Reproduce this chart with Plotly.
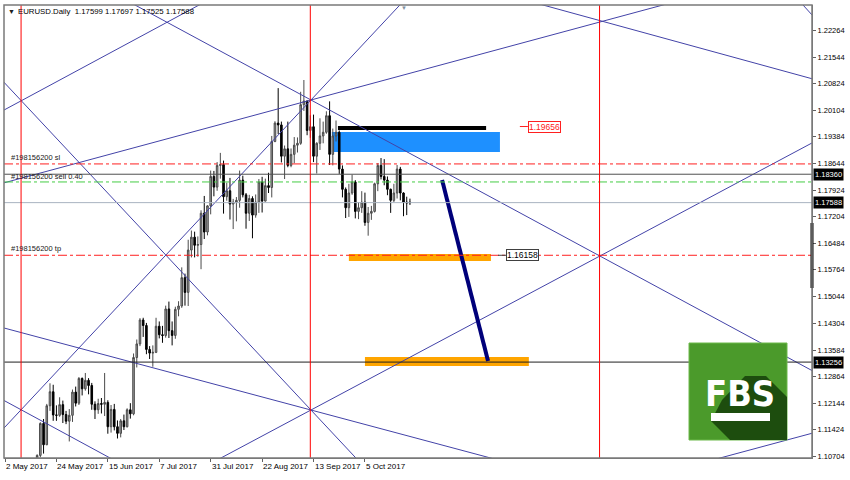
import plotly.graph_objects as go

# ---------------- data ----------------
bar_index = list(range(10, 127))
opens = [1.0980, 1.1072, 1.1159, 1.1101, 1.1207, 1.1245, 1.1182, 1.1181, 1.1210, 1.1183,
         1.1165, 1.1181, 1.1244, 1.1214, 1.1281, 1.1253, 1.1276, 1.1262, 1.1211, 1.1196,
         1.1213, 1.1211, 1.1216, 1.1150, 1.1197, 1.1150, 1.1132, 1.1166, 1.1150, 1.1196,
         1.1185, 1.1338, 1.1375, 1.1440, 1.1425, 1.1360, 1.1350, 1.1352, 1.1423, 1.1400,
         1.1398, 1.1470, 1.1411, 1.1398, 1.1469, 1.1478, 1.1555, 1.1515, 1.1630, 1.1665,
         1.1643, 1.1645, 1.1730, 1.1679, 1.1750, 1.1830, 1.1801, 1.1860, 1.1862, 1.1775,
         1.1791, 1.1755, 1.1760, 1.1765, 1.1820, 1.1780, 1.1730, 1.1770, 1.1725, 1.1760,
         1.1815, 1.1763, 1.1805, 1.1800, 1.1925, 1.1975, 1.1970, 1.1885, 1.1905, 1.1860,
         1.1890, 1.1915, 1.1920, 1.2025, 1.2035, 1.1955, 1.1965, 1.1885, 1.1920, 1.1940,
         1.1950, 1.1995, 1.1890, 1.1940, 1.1950, 1.1850, 1.1795, 1.1745, 1.1785, 1.1815,
         1.1735, 1.1745, 1.1760, 1.1705, 1.1730, 1.1735, 1.1810, 1.1860, 1.1830, 1.1820,
         1.1795, 1.1765, 1.1785, 1.1850, 1.1785, 1.1760, 1.17599]
highs = [1.1075, 1.1162, 1.1171, 1.1212, 1.1268, 1.1264, 1.1208, 1.1230, 1.1221, 1.1193,
         1.1198, 1.1251, 1.1259, 1.1285, 1.1284, 1.1296, 1.1282, 1.1269, 1.1219, 1.1226,
         1.1228, 1.1296, 1.1222, 1.1209, 1.1212, 1.1167, 1.1171, 1.1183, 1.1200, 1.1214,
         1.1349, 1.1387, 1.1445, 1.1446, 1.1432, 1.1369, 1.1371, 1.1446, 1.1436, 1.1424,
         1.1479, 1.1490, 1.1436, 1.1476, 1.1491, 1.1583, 1.1566, 1.1658, 1.1683, 1.1680,
         1.1667, 1.1738, 1.1777, 1.1752, 1.1846, 1.1845, 1.1869, 1.1894, 1.1873, 1.1813,
         1.1826, 1.1769, 1.1774, 1.1846, 1.1832, 1.1785, 1.1780, 1.1776, 1.1781, 1.1823,
         1.1829, 1.1824, 1.1840, 1.1940, 1.1980, 1.2070, 1.1979, 1.1914, 1.1979, 1.1906,
         1.1937, 1.1936, 1.2060, 1.2092, 1.2036, 1.1996, 1.1998, 1.1923, 1.1988, 1.1979,
         1.2007, 1.2034, 1.1960, 1.1982, 1.1955, 1.1860, 1.1800, 1.1810, 1.1835, 1.1820,
         1.1760, 1.1790, 1.1786, 1.1747, 1.1750, 1.1813, 1.1866, 1.1880, 1.1877, 1.1830,
         1.1797, 1.1810, 1.1861, 1.1856, 1.1787, 1.1775, 1.17697]
lows = [1.0971, 1.1067, 1.1077, 1.1100, 1.1193, 1.1166, 1.1166, 1.1177, 1.1160, 1.1157,
        1.1110, 1.1163, 1.1205, 1.1209, 1.1235, 1.1248, 1.1238, 1.1196, 1.1171, 1.1185,
        1.1186, 1.1179, 1.1131, 1.1134, 1.1140, 1.1118, 1.1121, 1.1141, 1.1148, 1.1172,
        1.1181, 1.1311, 1.1369, 1.1394, 1.1347, 1.1334, 1.1313, 1.1350, 1.1390, 1.1378,
        1.1392, 1.1391, 1.1371, 1.1389, 1.1450, 1.1473, 1.1479, 1.1478, 1.1610, 1.1610,
        1.1612, 1.1578, 1.1660, 1.1670, 1.1727, 1.1776, 1.1791, 1.1824, 1.1729, 1.1764,
        1.1713, 1.1687, 1.1708, 1.1745, 1.1773, 1.1688, 1.1709, 1.1662, 1.1718, 1.1731,
        1.1732, 1.1762, 1.1785, 1.1773, 1.1923, 1.1945, 1.1868, 1.1823, 1.1855, 1.1855,
        1.1866, 1.1895, 1.1916, 1.2008, 1.1942, 1.1935, 1.1869, 1.1838, 1.1902, 1.1920,
        1.1946, 1.1861, 1.1860, 1.1925, 1.1837, 1.1773, 1.1717, 1.1720, 1.1780, 1.1716,
        1.1714, 1.1731, 1.1696, 1.1669, 1.1712, 1.1732, 1.1790, 1.1822, 1.1806, 1.1779,
        1.1731, 1.1760, 1.1770, 1.1765, 1.1722, 1.1725, 1.17525]
closes = [1.1072, 1.1159, 1.1101, 1.1207, 1.1245, 1.1182, 1.1181, 1.1210, 1.1183, 1.1165,
          1.1181, 1.1244, 1.1214, 1.1281, 1.1253, 1.1276, 1.1262, 1.1211, 1.1196, 1.1213,
          1.1211, 1.1216, 1.1150, 1.1197, 1.1150, 1.1132, 1.1166, 1.1150, 1.1196, 1.1185,
          1.1338, 1.1375, 1.1440, 1.1425, 1.1360, 1.1350, 1.1352, 1.1423, 1.1400, 1.1398,
          1.1470, 1.1411, 1.1398, 1.1469, 1.1478, 1.1555, 1.1515, 1.1630, 1.1665, 1.1643,
          1.1645, 1.1730, 1.1679, 1.1750, 1.1830, 1.1801, 1.1860, 1.1862, 1.1775, 1.1791,
          1.1755, 1.1760, 1.1765, 1.1820, 1.1780, 1.1730, 1.1770, 1.1725, 1.1760, 1.1815,
          1.1763, 1.1805, 1.1800, 1.1925, 1.1975, 1.1970, 1.1885, 1.1905, 1.1860, 1.1890,
          1.1915, 1.1920, 1.2025, 1.2035, 1.1955, 1.1965, 1.1885, 1.1920, 1.1940, 1.1950,
          1.1995, 1.1890, 1.1940, 1.1950, 1.1850, 1.1795, 1.1745, 1.1785, 1.1815, 1.1735,
          1.1745, 1.1760, 1.1705, 1.1730, 1.1735, 1.1810, 1.1860, 1.1830, 1.1820, 1.1795,
          1.1765, 1.1785, 1.1850, 1.1785, 1.1760, 1.1758, 1.17588]

date_tick_index = [0, 16, 32, 48, 64, 80, 96, 112]
date_tick_labels = ["2 May 2017", "24 May 2017", "15 Jun 2017", "7 Jul 2017",
                    "31 Jul 2017", "22 Aug 2017", "13 Sep 2017", "5 Oct 2017"]
price_ticks = [1.22264, 1.21544, 1.20824, 1.20104, 1.19384, 1.18644, 1.17924, 1.17204,
               1.16484, 1.15764, 1.15044, 1.14304, 1.13584, 1.12864, 1.12144, 1.11424, 1.10704]

symbol_title = "EURUSD.Daily"
order_id = "#198156200"
sl_price = 1.18640
level_price = 1.18360
open_price = 1.18150
bid_price = 1.17588
tp_price = 1.16158
low_level_price = 1.13256
red_label_price = 1.19656

vline_index = [5, 95, 185]

# trend lines: anchor (bar index, price) pairs
tl_i1 = [95.2, -0.3, 95.2, 28.6, -0.3, 17.1, 95.2, 167.4, 248.3, 0.0, 222.5]
tl_p1 = [1.20377, 1.11465, 1.20377, 1.21463, 1.14182, 1.19235, 1.11954, 1.22958, 1.22958, 1.12198, 1.10650]
tl_i2 = [185.1, 95.2, 185.1, 60.4, 95.2, 95.2, 185.1, 251.4, 251.4, 32.7, 251.4]
tl_p2 = [1.22496, 1.20377, 1.16138, 1.22958, 1.11954, 1.11954, 1.16138, 1.20947, 1.22659, 1.10650, 1.11329]

blue_zone_i = [101.7, 154.0]
blue_zone_p = [1.18964, 1.19507]
black_bar_i = [103.6, 149.7]
black_bar_p = 1.19616
orange1_i = [107.0, 151.2]
orange1_p = [1.16002, 1.16193]
orange2_i = [112.0, 163.0]
orange2_p = [1.13149, 1.13394]
navy_i = [136.0, 150.3]
navy_p = [1.18203, 1.13285]
red_label_i = [160.2, 162.7]
tp_label_i = [153.4, 155.9]

# ---------------- figure ----------------
X_RANGE = [-0.31, 251.1]
Y_RANGE = [1.10650, 1.22958]
L, R, T, B = 4, 38, 5, 22
PW, PH = 850 - L - R, 480 - T - B


def px(x):
    return (x - L) / PW


def py(y):
    return 1 - (y - T) / PH


FONT = "Liberation Sans, Arial, sans-serif"
fig = go.Figure()

fig.add_trace(go.Candlestick(
    x=bar_index, open=opens, high=highs, low=lows, close=closes,
    increasing=dict(line=dict(color="#4a4a4a", width=1), fillcolor="#a0a0a0"),
    decreasing=dict(line=dict(color="#000000", width=1), fillcolor="#000000"),
    whiskerwidth=0, showlegend=False, hoverinfo="skip"))

# trend lines (extended across the chart)
lx, ly = [], []
for i1, p1, i2, p2 in zip(tl_i1, tl_p1, tl_i2, tl_p2):
    s = (p2 - p1) / (i2 - i1)
    for xv in (-40, 300):
        lx.append(xv)
        ly.append(p1 + s * (xv - i1))
    lx.append(None)
    ly.append(None)
fig.add_trace(go.Scatter(x=lx, y=ly, mode="lines", line=dict(color="#4343a8", width=1),
                         showlegend=False, hoverinfo="skip"))

# navy thick line
fig.add_trace(go.Scatter(x=navy_i, y=navy_p, mode="lines",
                         line=dict(color="#00007a", width=4), showlegend=False, hoverinfo="skip"))

shapes = []
# rectangles (behind candles)
shapes.append(dict(type="rect", xref="x", yref="y", x0=blue_zone_i[0], x1=blue_zone_i[1],
                   y0=blue_zone_p[0], y1=blue_zone_p[1], fillcolor="#1e90ff",
                   line=dict(width=0), layer="below"))
shapes.append(dict(type="rect", xref="x", yref="y", x0=orange1_i[0], x1=orange1_i[1],
                   y0=orange1_p[0], y1=orange1_p[1], fillcolor="#ffa500",
                   line=dict(width=0), layer="below"))
shapes.append(dict(type="rect", xref="x", yref="y", x0=orange2_i[0], x1=orange2_i[1],
                   y0=orange2_p[0], y1=orange2_p[1], fillcolor="#ffa500",
                   line=dict(width=0), layer="below"))
shapes.append(dict(type="line", xref="x", yref="y", x0=black_bar_i[0], x1=black_bar_i[1],
                   y0=black_bar_p, y1=black_bar_p, line=dict(color="#000000", width=4),
                   layer="below"))

# horizontal lines
shapes.append(dict(type="line", xref="paper", yref="y", x0=0, x1=1, y0=bid_price, y1=bid_price,
                   line=dict(color="#a9b3c0", width=1)))
shapes.append(dict(type="line", xref="paper", yref="y", x0=0, x1=1, y0=level_price, y1=level_price,
                   line=dict(color="#505050", width=1)))
shapes.append(dict(type="line", xref="paper", yref="y", x0=0, x1=1, y0=low_level_price,
                   y1=low_level_price, line=dict(color="#202020", width=1)))
shapes.append(dict(type="line", xref="paper", yref="y", x0=0, x1=1, y0=sl_price, y1=sl_price,
                   line=dict(color="#ff2020", width=1, dash="dashdot")))
shapes.append(dict(type="line", xref="paper", yref="y", x0=0, x1=1, y0=tp_price, y1=tp_price,
                   line=dict(color="#ff2020", width=1, dash="dashdot")))
shapes.append(dict(type="line", xref="paper", yref="y", x0=0, x1=1, y0=open_price, y1=open_price,
                   line=dict(color="#44cc44", width=1, dash="dashdot")))

# vertical red lines
for vi in vline_index:
    shapes.append(dict(type="line", xref="x", yref="paper", x0=vi, x1=vi, y0=0, y1=1,
                       line=dict(color="#ff0000", width=1), layer="above"))

# price label connector ticks
shapes.append(dict(type="line", xref="x", yref="y", x0=red_label_i[0], x1=red_label_i[1],
                   y0=red_label_price, y1=red_label_price, line=dict(color="#ff2020", width=1)))
shapes.append(dict(type="line", xref="x", yref="y", x0=tp_label_i[0], x1=tp_label_i[1],
                   y0=tp_price, y1=tp_price, line=dict(color="#404040", width=1)))

# right axis dark segment
shapes.append(dict(type="line", xref="paper", yref="paper", x0=1, x1=1, y0=py(288), y1=py(223),
                   line=dict(color="#000000", width=3)))

# frame
shapes.append(dict(type="rect", xref="paper", yref="paper", x0=0, x1=1, y0=0, y1=1,
                   line=dict(color="#7a7a7a", width=1.5)))

# FBS logo
shapes.append(dict(type="rect", xref="paper", yref="paper", x0=px(689), x1=px(787),
                   y0=py(440), y1=py(343), fillcolor="#4b9a2b",
                   line=dict(color="#6cb94a", width=1), layer="above"))
shadow_pts = [(711, 421), (730, 440), (787, 440), (787, 397), (766, 376), (745, 376), (722, 400)]
path = "M " + " L ".join(f"{px(a):.5f},{py(b):.5f}" for a, b in shadow_pts) + " Z"
shapes.append(dict(type="path", xref="paper", yref="paper", path=path, fillcolor="#1d4d0e",
                   line=dict(width=0), layer="above"))
shapes.append(dict(type="rect", xref="paper", yref="paper", x0=px(711), x1=px(770),
                   y0=py(421), y1=py(413), fillcolor="#ffffff", line=dict(width=0), layer="above"))

annotations = []
title_text = (f"{symbol_title}  {opens[-1]:.5f} {highs[-1]:.5f} {lows[-1]:.5f} {closes[-1]:.5f}")
annotations.append(dict(xref="paper", yref="paper", x=px(6), y=py(12), xanchor="left",
                        yanchor="middle", text="▼", showarrow=False,
                        font=dict(family=FONT, size=7, color="#202020")))
annotations.append(dict(xref="paper", yref="paper", x=px(16), y=py(12), xanchor="left",
                        yanchor="middle", text=title_text, showarrow=False,
                        font=dict(family=FONT, size=7.8, color="#000000")))
annotations.append(dict(xref="paper", yref="paper", x=px(404), y=py(8), xanchor="center",
                        yanchor="middle", text="▼", showarrow=False,
                        font=dict(family=FONT, size=6, color="#8090a0")))

lab_font = dict(family=FONT, size=7.5, color="#202020")
annotations.append(dict(xref="paper", yref="y", x=px(9), y=sl_price, xanchor="left",
                        yanchor="bottom", yshift=0, text=f"{order_id} sl", showarrow=False,
                        font=lab_font))
annotations.append(dict(xref="paper", yref="y", x=px(9), y=open_price, xanchor="left",
                        yanchor="bottom", yshift=-1, text=f"{order_id} sell 0.40", showarrow=False,
                        font=lab_font))
annotations.append(dict(xref="paper", yref="y", x=px(9), y=tp_price, xanchor="left",
                        yanchor="bottom", yshift=0, text=f"{order_id} tp", showarrow=False,
                        font=lab_font))

annotations.append(dict(xref="x", yref="y", x=red_label_i[1], y=red_label_price, xanchor="left",
                        yanchor="middle", text=f"{red_label_price:.5f}", showarrow=False,
                        font=dict(family=FONT, size=8.5, color="#ff2020"),
                        bgcolor="#ffffff", bordercolor="#ff2020", borderwidth=1, borderpad=0))
annotations.append(dict(xref="x", yref="y", x=tp_label_i[1], y=tp_price, xanchor="left",
                        yanchor="middle", text=f"{tp_price:.5f}", showarrow=False,
                        font=dict(family=FONT, size=8.5, color="#000000"),
                        bgcolor="#ffffff", bordercolor="#404040", borderwidth=1, borderpad=0))

for v in (level_price, bid_price, low_level_price):
    annotations.append(dict(xref="paper", yref="y", x=1, xshift=1, y=v, xanchor="left",
                            yanchor="middle", text=f"{v:.5f}", showarrow=False,
                            font=dict(family=FONT, size=7.5, color="#ffffff"),
                            bgcolor="#000000", borderpad=1))

for idx, lab in zip(date_tick_index, date_tick_labels):
    annotations.append(dict(xref="x", yref="paper", x=idx, y=0, xanchor="left", yanchor="top",
                            xshift=-1, yshift=-2, text=lab, showarrow=False,
                            font=dict(family=FONT, size=8, color="#000000")))

annotations.append(dict(xref="paper", yref="paper", x=px(740), y=py(393), xanchor="center",
                        yanchor="middle", text="<b>FBS</b>", showarrow=False,
                        font=dict(family="Liberation Sans Narrow, DejaVu Sans Condensed, sans-serif",
                                  size=36, color="#ffffff")))

fig.update_layout(
    width=850, height=480,
    margin=dict(l=L, r=R, t=T, b=B),
    paper_bgcolor="#ffffff", plot_bgcolor="#ffffff",
    showlegend=False,
    shapes=shapes, annotations=annotations,
    xaxis=dict(range=X_RANGE, autorange=False, showgrid=False, zeroline=False,
               rangeslider=dict(visible=False), tickmode="array", tickvals=date_tick_index,
               showticklabels=False, ticks="outside", ticklen=3, tickcolor="#606060",
               showline=True, linecolor="#7a7a7a", linewidth=1),
    yaxis=dict(range=Y_RANGE, autorange=False, side="right", showgrid=False, zeroline=False,
               tickmode="array", tickvals=price_ticks,
               ticktext=[f"{v:.5f}" for v in price_ticks], ticks="outside", ticklen=3,
               tickcolor="#606060", showline=True, linecolor="#7a7a7a", linewidth=1,
               tickfont=dict(family=FONT, size=7.5, color="#000000")),
)

fig.write_html("out.html", config={"displayModeBar": False},
               post_script="document.body.style.margin='0';document.body.style.padding='0';")
